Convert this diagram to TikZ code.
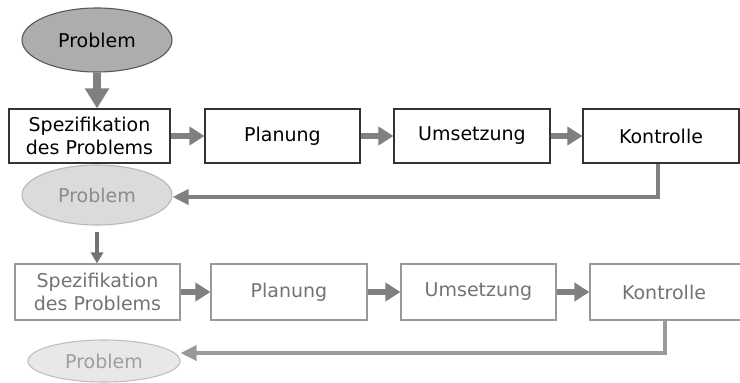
\documentclass[tikz,border=0pt]{standalone}
\usepackage{fontspec}
\setmainfont{DejaVu Sans}
\usetikzlibrary{shapes.geometric,arrows.meta}
\definecolor{arr}{HTML}{808080}
\definecolor{arrlt}{HTML}{9A9A9A}
\begin{document}
\begin{tikzpicture}[x=1pt,y=-1pt,
  txt/.style={font=\fontsize{19}{23}\selectfont, align=center},
  boxA/.style={txt, draw=black!80, line width=1.1pt, fill=white, inner sep=0pt, text=black},
  boxB/.style={txt, draw=black!40, line width=1.1pt, fill=white, inner sep=0pt, text=black!55},
  ellA/.style={txt, ellipse, draw=black!65, line width=1.1pt, fill=black!32, inner sep=0pt, text=black},
  ellB/.style={txt, ellipse, draw=black!28, line width=1.1pt, fill=black!14, inner sep=0pt, text=black!45},
  ellC/.style={txt, ellipse, draw=black!25, line width=1.1pt, fill=black!9, inner sep=0pt, text=black!38},
  bigarr/.style={draw=arr, line width=8pt, -{Triangle[length=20pt,width=23pt]}},
  midarr/.style={draw=arr, line width=6.5pt, -{Triangle[length=15pt,width=18pt]}},
  fbA/.style={draw=arr, line width=3.5pt, -{Triangle[length=16pt,width=15pt]}},
  fbB/.style={draw=arrlt, line width=3.5pt, -{Triangle[length=16pt,width=15pt]}},
  thinarr/.style={draw=black!55, line width=3.5pt, -{Triangle[length=11pt,width=12pt]}}
]
\clip (0,0) rectangle (740,383);
\fill[white] (0,0) rectangle (740,383);

% Row 1
\node[ellA, minimum width=150pt, minimum height=64pt] (p1) at (97,40) {Problem};
\node[boxA, minimum width=161pt, minimum height=54pt] (s1) at (89.5,136) {Spezifikation\\des Problems};
\node[boxA, minimum width=155pt, minimum height=54pt] (pl1) at (282.5,136) {Planung};
\node[boxA, minimum width=156pt, minimum height=54pt] (u1) at (472,136) {Umsetzung};
\node[boxA, minimum width=156pt, minimum height=54pt] (k1) at (661,136) {Kontrolle};

\draw[bigarr] (p1.south) -- (s1.north -| p1.south);
\draw[midarr] (s1.east) -- (pl1.west);
\draw[midarr] (pl1.east) -- (u1.west);
\draw[midarr] (u1.east) -- (k1.west);

% Row 1 feedback
\node[ellB, minimum width=150pt, minimum height=60pt] (p2) at (97,195) {Problem};
\coordinate (f1) at (658,197);
\draw[fbA] (k1.south -| f1) -- (f1) -- (p2.east |- f1);

% Row 2
\node[boxB, minimum width=165pt, minimum height=56pt] (s2) at (97.5,292) {Spezifikation\\des Problems};
\node[boxB, minimum width=156pt, minimum height=56pt] (pl2) at (289,292) {Planung};
\node[boxB, minimum width=155pt, minimum height=56pt] (u2) at (478.5,292) {Umsetzung};
\node[boxB, minimum width=160pt, minimum height=56pt] (k2) at (670,292) {\hspace*{-12pt}Kontrolle};

\draw[thinarr] (97,232) coordinate (t0) -- (t0 |- s2.north);
\draw[midarr] (s2.east) -- (pl2.west);
\draw[midarr] (pl2.east) -- (u2.west);
\draw[midarr] (u2.east) -- (k2.west);

% Row 2 feedback
\node[ellC, minimum width=152pt, minimum height=42pt] (p3) at (104,361) {Problem};
\coordinate (f2) at (665,353);
\draw[fbB] (k2.south -| f2) -- (f2) -- (p3.east |- f2);
\end{tikzpicture}
\end{document}
